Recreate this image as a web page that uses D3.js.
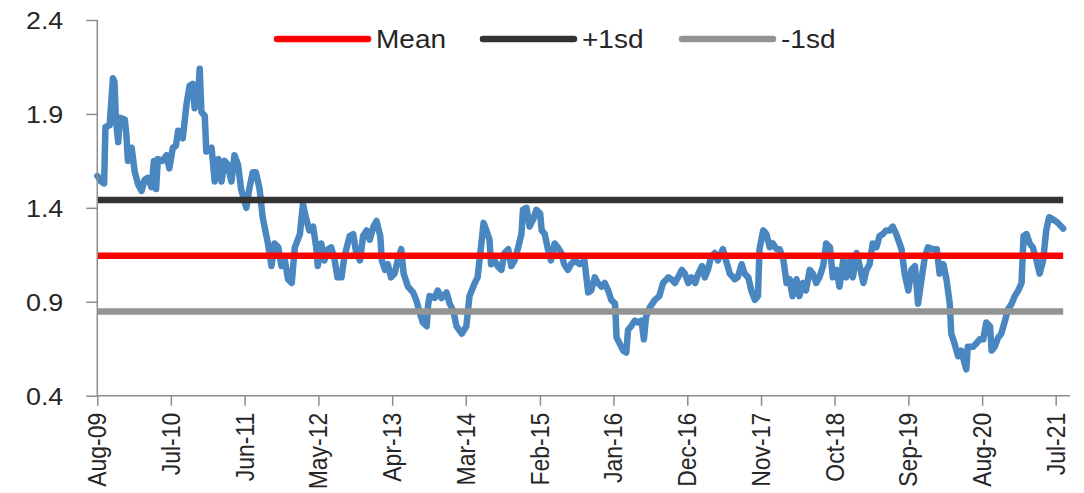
<!DOCTYPE html>
<html>
<head>
<meta charset="utf-8">
<script src="https://cdn.jsdelivr.net/npm/d3@7"></script>
<style>
  html, body { margin: 0; padding: 0; background: #ffffff; }
  svg { display: block; font-family: "Liberation Sans", Arial, sans-serif; }
</style>
</head>
<body>
<svg id="chart" width="1084" height="493"></svg>
<script>
// ---- Data ----
const dates = [
"2009-08-01","2009-08-19","2009-09-01","2009-09-07","2009-09-26","2009-10-11","2009-10-18","2009-10-25","2009-11-04","2009-11-11",
"2009-12-04","2009-12-11","2009-12-18","2010-01-04","2010-01-18","2010-02-04","2010-02-18","2010-03-04","2010-03-18","2010-04-04",
"2010-04-15","2010-04-25","2010-05-03","2010-05-24","2010-06-11","2010-06-24","2010-07-10","2010-07-24","2010-08-03","2010-08-24",
"2010-09-10","2010-09-24","2010-10-09","2010-10-17","2010-11-02","2010-11-09","2010-11-17","2010-12-02","2010-12-09","2011-01-02",
"2011-01-16","2011-02-02","2011-02-16","2011-03-02","2011-03-16","2011-04-02","2011-04-16","2011-05-02","2011-05-16","2011-06-09",
"2011-06-22","2011-07-08","2011-07-22","2011-08-08","2011-08-22","2011-09-15","2011-10-01","2011-10-15","2011-11-01","2011-11-15",
"2011-12-01","2011-12-15","2012-01-01","2012-01-15","2012-02-07","2012-02-21","2012-03-07","2012-03-21","2012-04-07","2012-04-21",
"2012-04-28","2012-05-14","2012-05-28","2012-06-14","2012-06-28","2012-07-14","2012-07-27","2012-08-14","2012-08-27","2012-09-20",
"2012-10-06","2012-10-20","2012-11-06","2012-11-20","2012-12-06","2012-12-20","2013-01-06","2013-01-20","2013-02-06","2013-02-13",
"2013-02-27","2013-03-12","2013-03-27","2013-04-12","2013-04-26","2013-05-12","2013-05-23","2013-06-12","2013-07-05","2013-07-19",
"2013-08-05","2013-08-18","2013-09-05","2013-09-11","2013-09-18","2013-10-11","2013-10-25","2013-11-11","2013-12-04","2013-12-18",
"2014-01-04","2014-01-18","2014-02-11","2014-03-04","2014-03-18","2014-04-11","2014-04-24","2014-05-11","2014-05-21","2014-06-03",
"2014-06-17","2014-06-24","2014-07-10","2014-07-24","2014-08-10","2014-08-24","2014-09-10","2014-09-24","2014-10-09","2014-10-23",
"2014-11-09","2014-11-16","2014-12-02","2014-12-16","2015-01-02","2015-01-16","2015-02-02","2015-02-09","2015-02-23","2015-03-09",
"2015-03-23","2015-04-09","2015-04-23","2015-05-09","2015-05-22","2015-06-08","2015-06-22","2015-07-08","2015-08-01","2015-08-22",
"2015-09-08","2015-09-22","2015-10-08","2015-10-22","2015-11-08","2015-11-22","2015-12-08","2015-12-22","2016-01-08","2016-01-15",
"2016-01-28","2016-02-14","2016-02-28","2016-03-07","2016-03-21","2016-04-07","2016-04-21","2016-05-07","2016-05-18","2016-05-28",
"2016-06-14","2016-07-07","2016-07-27","2016-08-13","2016-09-06","2016-09-20","2016-10-06","2016-10-20","2016-11-06","2016-11-20",
"2016-12-06","2016-12-20","2017-01-06","2017-01-20","2017-02-06","2017-02-19","2017-03-05","2017-03-19","2017-04-05","2017-04-19",
"2017-05-12","2017-05-26","2017-06-12","2017-07-05","2017-07-18","2017-08-05","2017-08-18","2017-09-04","2017-09-18","2017-10-04",
"2017-10-18","2017-10-25","2017-11-11","2017-11-25","2017-12-11","2017-12-25","2018-01-11","2018-01-25","2018-02-11","2018-02-25",
"2018-03-11","2018-03-24","2018-04-11","2018-04-24","2018-05-10","2018-05-24","2018-06-10","2018-06-24","2018-07-10","2018-07-24",
"2018-08-10","2018-08-24","2018-09-10","2018-09-23","2018-10-10","2018-10-23","2018-11-09","2018-11-23","2018-12-09","2018-12-23",
"2019-01-09","2019-01-23","2019-02-09","2019-02-23","2019-03-09","2019-03-23","2019-04-09","2019-04-23","2019-05-08","2019-05-23",
"2019-06-08","2019-06-22","2019-07-08","2019-08-01","2019-08-15","2019-09-01","2019-09-15","2019-10-01","2019-10-15","2019-11-01",
"2019-11-15","2019-11-29","2019-12-21","2020-01-08","2020-01-21","2020-02-07","2020-02-21","2020-03-07","2020-03-14","2020-03-28",
"2020-04-14","2020-04-28","2020-05-21","2020-05-28","2020-06-20","2020-07-07","2020-07-21","2020-08-06","2020-08-20","2020-09-06",
"2020-09-13","2020-09-27","2020-10-13","2020-10-27","2020-11-13","2020-11-27","2020-12-13","2020-12-27","2021-01-12","2021-01-27",
"2021-02-05","2021-02-19","2021-03-05","2021-03-19","2021-04-05","2021-04-19","2021-05-05","2021-05-19","2021-06-01","2021-06-18",
"2021-07-11","2021-08-04"
];
const values = [
1.57,1.54,1.53,1.83,1.84,2.09,2.07,1.86,1.75,1.88,
1.87,1.79,1.65,1.72,1.59,1.52,1.49,1.55,1.56,1.51,
1.65,1.50,1.66,1.65,1.68,1.61,1.72,1.73,1.81,1.77,
1.95,2.05,2.06,1.93,2.00,2.14,1.91,1.89,1.70,1.72,
1.54,1.66,1.54,1.65,1.63,1.54,1.68,1.63,1.50,1.40,
1.50,1.59,1.59,1.50,1.35,1.21,1.09,1.21,1.19,1.09,
1.12,1.02,1.00,1.19,1.26,1.42,1.34,1.28,1.30,1.19,
1.09,1.21,1.12,1.18,1.19,1.12,1.03,1.03,1.14,1.25,
1.26,1.16,1.12,1.25,1.28,1.23,1.30,1.33,1.25,1.12,
1.07,1.10,1.03,1.05,1.12,1.18,1.05,0.98,0.95,0.91,
0.84,0.79,0.77,0.88,0.93,0.92,0.96,0.92,0.95,0.89,
0.85,0.77,0.73,0.77,0.93,1.00,1.03,1.21,1.32,1.28,
1.23,1.10,1.12,1.09,1.07,1.16,1.18,1.09,1.12,1.18,
1.26,1.39,1.40,1.30,1.34,1.39,1.37,1.28,1.26,1.18,
1.12,1.21,1.19,1.16,1.10,1.07,1.10,1.12,1.10,1.12,
0.95,0.96,1.03,1.00,0.98,1.00,0.96,0.91,0.89,0.71,
0.68,0.64,0.63,0.75,0.77,0.80,0.79,0.80,0.70,0.82,
0.87,0.91,0.93,1.00,1.03,1.02,1.00,1.03,1.07,1.05,
1.00,1.03,1.00,1.05,1.09,1.03,1.07,1.14,1.16,1.12,
1.18,1.12,1.05,1.02,1.03,1.10,1.05,1.03,0.96,0.91,
0.93,1.18,1.28,1.26,1.19,1.21,1.18,1.18,1.12,1.00,
1.02,0.93,1.02,0.93,1.00,0.96,1.07,1.05,1.00,1.03,
1.09,1.21,1.19,1.03,1.07,0.98,1.12,1.03,1.12,1.03,
1.16,1.09,1.00,1.07,1.10,1.21,1.19,1.25,1.26,1.28,
1.28,1.30,1.26,1.18,1.05,0.96,1.07,1.09,0.89,1.03,
1.14,1.19,1.18,1.18,1.05,1.10,1.02,0.89,0.73,0.68,
0.61,0.64,0.54,0.66,0.66,0.68,0.70,0.70,0.79,0.77,
0.64,0.66,0.71,0.73,0.80,0.86,0.89,0.93,0.96,1.00,
1.25,1.26,1.21,1.19,1.12,1.05,1.12,1.28,1.35,1.34,
1.32,1.29
];
const refNames  = ["Mean", "+1sd", "-1sd"];
const refValues = [1.145, 1.442, 0.848];
const refColors = ["#ff0000", "#333333", "#939393"];

const yTickValues = [0.4, 0.9, 1.4, 1.9, 2.4];
const yTickLabels = ["0.4", "0.9", "1.4", "1.9", "2.4"];
const xTickDates  = ["2009-08-01","2010-07-01","2011-06-01","2012-05-01","2013-04-01","2014-03-01","2015-02-01",
                     "2016-01-01","2016-12-01","2017-11-01","2018-10-01","2019-09-01","2020-08-01","2021-07-01"];
const xTickLabels = ["Aug-09","Jul-10","Jun-11","May-12","Apr-13","Mar-14","Feb-15",
                     "Jan-16","Dec-16","Nov-17","Oct-18","Sep-19","Aug-20","Jul-21"];
const xDomain = ["2009-08-01", "2021-09-04"];

// ---- Chart ----
(function () {
  const parse = d3.timeParse("%Y-%m-%d");
  const series = dates.map((d, i) => ({ date: parse(d), value: values[i] }));
  const svg = d3.select("#chart");
  const plotLeft = 97.3, plotRight = 1070, plotTop = 20, plotBottom = 395.7;
  const stretch = 1.12;
  const textColor = "#262626";
  const axisColor = "#8c8c8c";

  const x = d3.scaleTime().domain(xDomain.map(parse)).range([plotLeft, plotRight]);
  const y = d3.scaleLinear().domain([0.4, 2.4]).range([plotBottom, plotTop]);

  // Blue series
  svg.append("path")
    .datum(series)
    .attr("fill", "none")
    .attr("stroke", "#4a87c0")
    .attr("stroke-width", 6.5)
    .attr("stroke-linejoin", "round")
    .attr("stroke-linecap", "round")
    .attr("d", d3.line().x(d => x(d.date)).y(d => y(d.value)));

  // Reference lines (drawn over the series)
  const firstDate = series[0].date, lastDate = series[series.length - 1].date;
  refValues.forEach((v, i) => {
    svg.append("line")
      .attr("x1", x(firstDate)).attr("x2", x(lastDate))
      .attr("y1", y(v)).attr("y2", y(v))
      .attr("stroke", refColors[i])
      .attr("stroke-width", 6.5);
  });

  // Y axis
  const yAxis = d3.axisLeft(y)
    .tickValues(yTickValues)
    .tickFormat((d, i) => yTickLabels[i])
    .tickSize(11)
    .tickPadding(0);
  const gy = svg.append("g").attr("transform", `translate(${plotLeft},0)`).call(yAxis);
  gy.select(".domain").attr("stroke", axisColor).attr("stroke-width", 1.5).attr("d", `M0,${plotTop}V${plotBottom}`);
  gy.selectAll(".tick line").attr("stroke", axisColor).attr("stroke-width", 1.5);
  gy.selectAll(".tick text")
    .attr("x", null).attr("dy", null)
    .attr("font-size", 24)
    .attr("fill", textColor)
    .attr("text-anchor", "end")
    .attr("transform", `translate(-34,8.5) scale(${stretch},1)`);

  // X axis
  const xAxis = d3.axisBottom(x)
    .tickValues(xTickDates.map(parse))
    .tickFormat((d, i) => xTickLabels[i])
    .tickSize(10);
  const gx = svg.append("g").attr("transform", `translate(0,${plotBottom})`).call(xAxis);
  gx.select(".domain").attr("stroke", axisColor).attr("stroke-width", 1.5).attr("d", `M${plotLeft},0H${plotRight}`);
  gx.selectAll(".tick line").attr("stroke", axisColor).attr("stroke-width", 1.5);
  gx.selectAll(".tick text")
    .attr("y", null).attr("dy", null)
    .attr("font-size", 23)
    .attr("fill", textColor)
    .attr("text-anchor", "end")
    .attr("transform", `translate(8.5,17) scale(${stretch},1) rotate(-90)`);

  // Legend
  const legendX = [277, 483, 682];
  const legend = svg.append("g");
  refNames.forEach((name, i) => {
    legend.append("line")
      .attr("x1", legendX[i]).attr("x2", legendX[i] + 91)
      .attr("y1", 39).attr("y2", 39)
      .attr("stroke", refColors[i])
      .attr("stroke-width", 6.5)
      .attr("stroke-linecap", "round");
    legend.append("text")
      .attr("transform", `translate(${legendX[i] + 99},47.5) scale(${stretch},1)`)
      .attr("font-size", 25)
      .attr("fill", textColor)
      .text(name);
  });
})();
</script>
</body>
</html>
